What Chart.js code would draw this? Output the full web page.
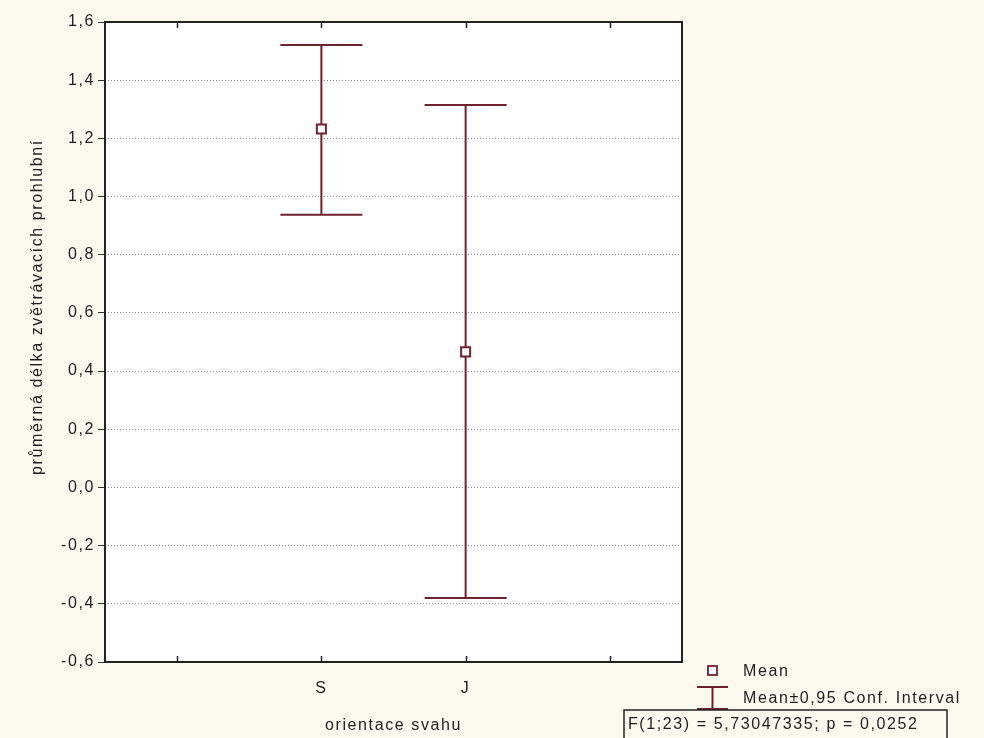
<!DOCTYPE html>
<html>
<head>
<meta charset="utf-8">
<script src="https://cdn.jsdelivr.net/npm/chart.js@4.4.0/dist/chart.umd.min.js"></script>
<style>
  html, body { margin: 0; padding: 0; background: #fcf9ee; }
  canvas { display: block; }
</style>
</head>
<body>
<canvas id="meanChart" width="984" height="738"></canvas>
<script>
// data
const categories = ['', 'S', 'J', ''];
const groups = ['S', 'J'];
const means = [1.232, 0.466];
const ciLow = [0.937, -0.380];
const ciHigh = [1.521, 1.315];
const yTickValues = [-0.6, -0.4, -0.2, 0.0, 0.2, 0.4, 0.6, 0.8, 1.0, 1.2, 1.4, 1.6];
const yAxisTitle = 'průměrná délka zvětrávacích prohlubní';
const xAxisTitle = 'orientace svahu';
const legendLabels = ['Mean', 'Mean±0,95 Conf. Interval'];
const statsText = 'F(1;23) = 5,73047335; p = 0,0252';

const lineCol = '#6e2230';
const textCol = '#1e1e1e';
const fontFam = '"Liberation Sans", Arial, sans-serif';
const fontSize = 16;

const backgroundPlugin = {
  id: 'background',
  beforeDraw(chart) {
    const ctx = chart.ctx, a = chart.chartArea;
    ctx.letterSpacing = '1.6px';
    ctx.save();
    ctx.fillStyle = '#fcf9ee';
    ctx.fillRect(0, 0, chart.width, chart.height);
    ctx.fillStyle = '#ffffff';
    ctx.fillRect(a.left, a.top, a.right - a.left, a.bottom - a.top);
    ctx.restore();
  }
};

// whiskers go under the mean squares
const errorBarPlugin = {
  id: 'errorBars',
  beforeDatasetsDraw(chart) {
    const ctx = chart.ctx;
    const xs = chart.scales.x, ys = chart.scales.y;
    ctx.save();
    ctx.strokeStyle = lineCol;
    ctx.lineWidth = 2;
    for (let i = 0; i < groups.length; i++) {
      const x = xs.getPixelForValue(categories.indexOf(groups[i]));
      const yTop = ys.getPixelForValue(ciHigh[i]);
      const yBot = ys.getPixelForValue(ciLow[i]);
      ctx.beginPath();
      ctx.moveTo(x, yTop); ctx.lineTo(x, yBot);
      ctx.moveTo(x - 41, yTop); ctx.lineTo(x + 41, yTop);
      ctx.moveTo(x - 41, yBot); ctx.lineTo(x + 41, yBot);
      ctx.stroke();
    }
    ctx.restore();
  }
};

const framePlugin = {
  id: 'frame',
  afterDraw(chart) {
    const ctx = chart.ctx, a = chart.chartArea;
    const xs = chart.scales.x;
    ctx.save();
    ctx.strokeStyle = '#222';
    ctx.lineWidth = 2;
    ctx.strokeRect(a.left, a.top, a.right - a.left, a.bottom - a.top);
    // inside ticks on top and bottom edges
    ctx.lineWidth = 1.5;
    ctx.beginPath();
    for (let i = 0; i < categories.length; i++) {
      const x = Math.round(xs.getPixelForTick(i)) + 0.5;
      ctx.moveTo(x, a.bottom); ctx.lineTo(x, a.bottom - 6);
      ctx.moveTo(x, a.top); ctx.lineTo(x, a.top + 6);
    }
    ctx.stroke();

    // y axis title
    ctx.fillStyle = textCol;
    ctx.font = fontSize + 'px ' + fontFam;
    ctx.textAlign = 'center';
    ctx.textBaseline = 'middle';
    ctx.translate(38, 307);
    ctx.rotate(-Math.PI / 2);
    ctx.fillText(yAxisTitle, 0, 0);
    ctx.restore();

    // legend
    ctx.save();
    ctx.strokeStyle = lineCol;
    ctx.lineWidth = 1.8;
    ctx.fillStyle = '#fff';
    ctx.fillRect(708, 666, 9, 9);
    ctx.strokeRect(708, 666, 9, 9);
    ctx.lineWidth = 2;
    ctx.beginPath();
    ctx.moveTo(697, 687); ctx.lineTo(728, 687);
    ctx.moveTo(712.5, 687); ctx.lineTo(712.5, 709);
    ctx.moveTo(697, 709); ctx.lineTo(728, 709);
    ctx.stroke();
    ctx.fillStyle = textCol;
    ctx.font = fontSize + 'px ' + fontFam;
    ctx.textAlign = 'left';
    ctx.textBaseline = 'middle';
    ctx.fillText(legendLabels[0], 743, 672);
    ctx.fillText(legendLabels[1], 743, 699);

    // stats box
    ctx.strokeStyle = '#222';
    ctx.lineWidth = 1.5;
    ctx.strokeRect(624, 710, 323, 40);
    ctx.fillText(statsText, 628, 725);
    ctx.restore();
  }
};

const meanPoints = groups.map((g, i) => ({ x: g, y: means[i] }));

const chart = new Chart(document.getElementById('meanChart').getContext('2d'), {
  type: 'line',
  data: {
    labels: categories,
    datasets: [{
      label: legendLabels[0],
      data: meanPoints,
      showLine: false,
      pointStyle: 'rect',
      pointRadius: 6.4,
      pointHoverRadius: 6.4,
      pointBorderWidth: 2,
      pointBorderColor: lineCol,
      pointBackgroundColor: '#ffffff'
    }]
  },
  options: {
    responsive: false,
    animation: false,
    events: [],
    layout: { padding: { top: 22, right: 302, left: 0, bottom: 0 } },
    plugins: {
      legend: { display: false },
      tooltip: { enabled: false }
    },
    scales: {
      x: {
        type: 'category',
        offset: true,
        grid: { display: false },
        border: { display: false },
        ticks: {
          color: textCol,
          font: { family: fontFam, size: fontSize },
          padding: 9,
          maxRotation: 0,
          autoSkip: false
        },
        title: {
          display: true,
          text: xAxisTitle,
          color: textCol,
          font: { family: fontFam, size: fontSize },
          padding: { top: 0, bottom: 3 }
        },
        afterFit(scale) { scale.height = 76; }
      },
      y: {
        min: -0.6,
        max: 1.6,
        afterBuildTicks(scale) {
          scale.ticks = yTickValues.map(v => ({ value: v }));
        },
        grid: {
          color(c) {
            const v = c.tick ? c.tick.value : 0;
            return (v <= -0.59 || v >= 1.59) ? 'rgba(0,0,0,0)' : '#8f8f8f';
          },
          lineWidth: 1,
          tickColor: '#333',
          tickLength: 7,
          drawTicks: true
        },
        border: { display: false, dash: [1, 2] },
        ticks: {
          color: textCol,
          font: { family: fontFam, size: fontSize },
          padding: 3,
          callback(v) { return Number(v).toFixed(1).replace('.', ','); }
        },
        afterFit(scale) { scale.width = 105; }
      }
    }
  },
  plugins: [backgroundPlugin, errorBarPlugin, framePlugin]
});
</script>
</body>
</html>
